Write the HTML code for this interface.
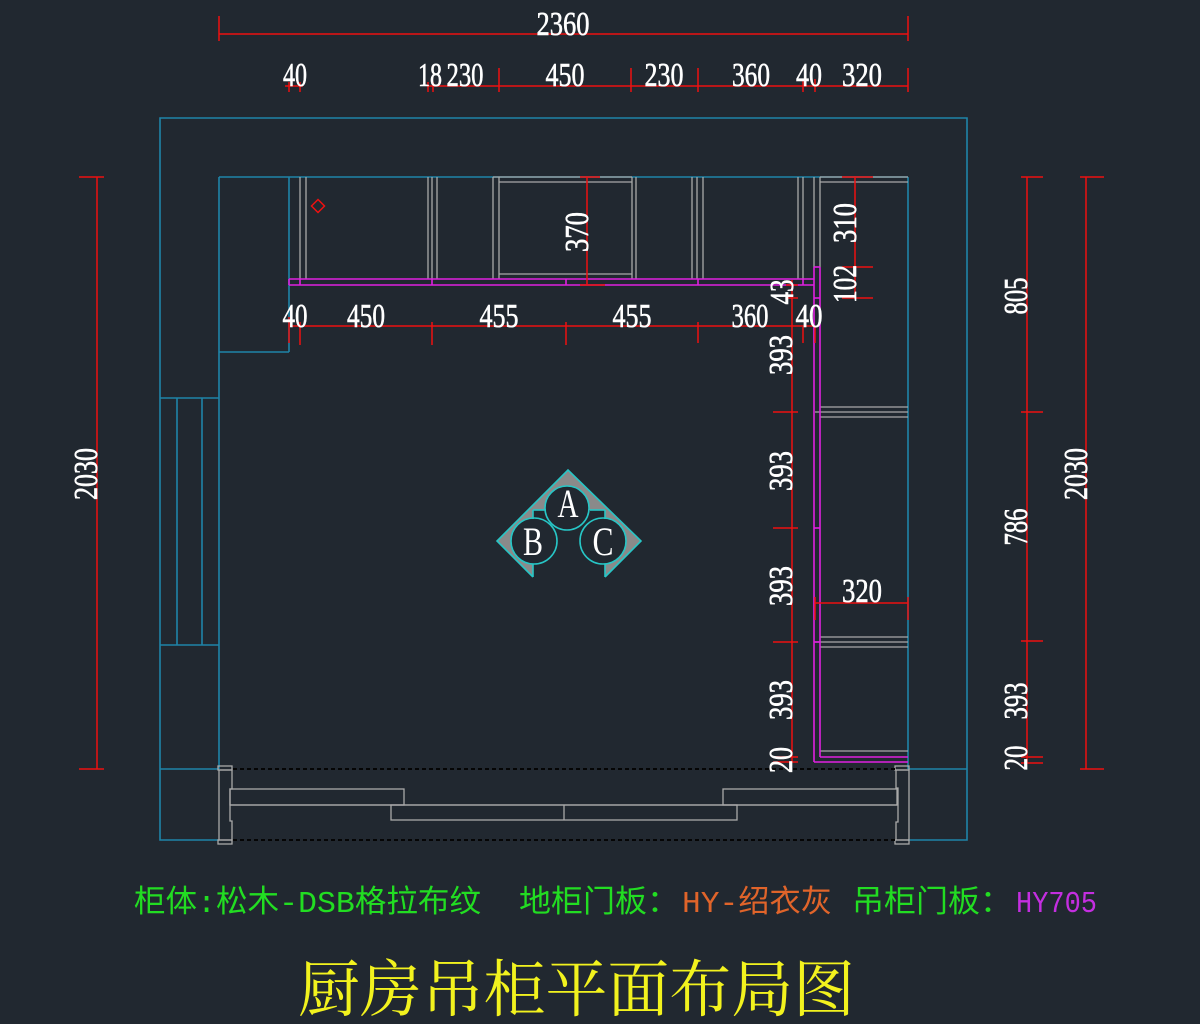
<!DOCTYPE html>
<html><head><meta charset="utf-8"><style>
html,body{margin:0;padding:0;background:#212830;}
svg{display:block}
.d{font-family:"Liberation Serif",serif;font-size:34px;fill:#ffffff;stroke:#ffffff;stroke-width:0.6px;}
.g{font-family:"Liberation Mono","Noto Sans CJK SC",sans-serif;font-size:31px;}
</style></head><body>
<svg width="1200" height="1024" viewBox="0 0 1200 1024" xmlns="http://www.w3.org/2000/svg">
<rect width="1200" height="1024" fill="#212830"/>

<g stroke="#1f84a8" stroke-width="1.6" fill="none">
<path d="M219,840 L160,840 L160,118 L967,118 L967,840 L908,840"/>
<line x1="219" y1="177" x2="908" y2="177"/>
<line x1="219" y1="177" x2="219" y2="769"/>
<line x1="908" y1="177" x2="908" y2="769"/>
<line x1="289" y1="177" x2="289" y2="352"/>
<line x1="219" y1="352" x2="289" y2="352"/>
<line x1="160" y1="398" x2="219" y2="398"/>
<line x1="160" y1="645" x2="219" y2="645"/>
<line x1="177" y1="398" x2="177" y2="645"/>
<line x1="202" y1="398" x2="202" y2="645"/>
<line x1="160" y1="769" x2="219" y2="769"/>
<line x1="908" y1="769" x2="967" y2="769"/>
</g>

<g stroke="#a9a9a9" stroke-width="1.3" fill="none">
<line x1="300" y1="177" x2="300" y2="279"/>
<line x1="306" y1="177" x2="306" y2="279"/>
<line x1="428" y1="177" x2="428" y2="279"/>
<line x1="432" y1="177" x2="432" y2="279"/>
<line x1="437" y1="177" x2="437" y2="279"/>
<line x1="493" y1="177" x2="493" y2="279"/>
<line x1="499" y1="177" x2="499" y2="279"/>
<line x1="632" y1="177" x2="632" y2="279"/>
<line x1="636" y1="177" x2="636" y2="279"/>
<line x1="692" y1="177" x2="692" y2="279"/>
<line x1="697" y1="177" x2="697" y2="279"/>
<line x1="703" y1="177" x2="703" y2="279"/>
<line x1="798" y1="177" x2="798" y2="279"/>
<line x1="803" y1="177" x2="803" y2="279"/>
<line x1="814" y1="177" x2="814" y2="267"/>
<line x1="820" y1="177" x2="820" y2="267"/>
<line x1="493" y1="177" x2="632" y2="177"/>
<line x1="499" y1="182" x2="632" y2="182"/>
<line x1="499" y1="274" x2="632" y2="274"/>
<line x1="820" y1="177" x2="908" y2="177"/>
<line x1="820" y1="182" x2="908" y2="182"/>
<line x1="820" y1="407" x2="908" y2="407"/>
<line x1="815" y1="412" x2="908" y2="412"/>
<line x1="820" y1="417" x2="908" y2="417"/>
<line x1="820" y1="637" x2="908" y2="637"/>
<line x1="815" y1="642" x2="908" y2="642"/>
<line x1="820" y1="647" x2="908" y2="647"/>
<line x1="820" y1="751" x2="908" y2="751"/>
<rect x="218" y="766" width="14" height="4"/>
<rect x="218" y="840" width="14" height="4"/>
<path d="M219,770 L232,770 L232,789 L230,789 L230,821 L232,821 L232,840 L219,840 Z"/>
<rect x="895" y="766" width="14" height="4"/>
<rect x="895" y="840" width="14" height="4"/>
<path d="M909,770 L896,770 L896,788 L898,788 L898,822 L896,822 L896,840 L909,840 Z"/>
<rect x="230" y="789" width="174" height="16"/>
<rect x="723" y="789" width="174" height="16"/>
<line x1="230" y1="805" x2="897" y2="805"/>
<rect x="391" y="805" width="346" height="15"/>
<line x1="564" y1="805" x2="564" y2="820"/>
</g>

<g stroke="#050505" stroke-width="2" stroke-dasharray="4 3">
<line x1="233" y1="769" x2="895" y2="769"/>
<line x1="233" y1="840" x2="895" y2="840"/>
</g>

<g stroke="#e020e0" stroke-width="1.6" fill="none">
<line x1="289" y1="279" x2="814" y2="279"/>
<line x1="289" y1="285" x2="814" y2="285"/>
<line x1="289" y1="279" x2="289" y2="285"/>
<line x1="300" y1="279" x2="300" y2="285"/>
<line x1="432" y1="279" x2="432" y2="285"/>
<line x1="566" y1="279" x2="566" y2="285"/>
<line x1="698" y1="279" x2="698" y2="285"/>
<line x1="803" y1="279" x2="803" y2="285"/>
<line x1="814" y1="267" x2="814" y2="762"/>
<line x1="820" y1="267" x2="820" y2="757"/>
<line x1="814" y1="267" x2="820" y2="267"/>
<line x1="814" y1="298" x2="820" y2="298"/>
<line x1="814" y1="528" x2="820" y2="528"/>
<line x1="814" y1="642" x2="820" y2="642"/>
<line x1="814" y1="762" x2="908" y2="762"/>
<line x1="820" y1="757" x2="908" y2="757"/>
</g>

<g stroke="#ee1111" stroke-width="1.5" fill="none">
<line x1="219" y1="34" x2="908" y2="34"/>
<line x1="219" y1="16" x2="219" y2="41"/>
<line x1="908" y1="16" x2="908" y2="41"/>
<line x1="285" y1="86" x2="303" y2="86"/>
<line x1="428" y1="86" x2="908" y2="86"/>
<line x1="289" y1="82" x2="289" y2="92"/>
<line x1="300" y1="82" x2="300" y2="92"/>
<line x1="428" y1="82" x2="428" y2="92"/>
<line x1="433" y1="82" x2="433" y2="92"/>
<line x1="499" y1="68" x2="499" y2="92"/>
<line x1="631" y1="68" x2="631" y2="92"/>
<line x1="698" y1="68" x2="698" y2="92"/>
<line x1="803" y1="79" x2="803" y2="92"/>
<line x1="815" y1="79" x2="815" y2="92"/>
<line x1="908" y1="68" x2="908" y2="92"/>
<line x1="97" y1="177" x2="97" y2="769"/>
<line x1="79" y1="177" x2="104" y2="177"/>
<line x1="79" y1="769" x2="104" y2="769"/>
<line x1="1027" y1="177" x2="1027" y2="763"/>
<line x1="1021" y1="177" x2="1043" y2="177"/>
<line x1="1021" y1="412" x2="1043" y2="412"/>
<line x1="1021" y1="641" x2="1043" y2="641"/>
<line x1="1021" y1="757" x2="1043" y2="757"/>
<line x1="1021" y1="763" x2="1043" y2="763"/>
<line x1="1086" y1="177" x2="1086" y2="769"/>
<line x1="1080" y1="177" x2="1104" y2="177"/>
<line x1="1080" y1="769" x2="1104" y2="769"/>
<line x1="855" y1="177" x2="855" y2="298"/>
<line x1="842" y1="177" x2="873" y2="177"/>
<line x1="842" y1="267" x2="873" y2="267"/>
<line x1="842" y1="298" x2="873" y2="298"/>
<line x1="587" y1="177" x2="587" y2="285"/>
<line x1="580" y1="285" x2="605" y2="285"/>
<line x1="580" y1="177" x2="600" y2="177"/>
<line x1="289" y1="326" x2="815" y2="326"/>
<line x1="289" y1="317" x2="289" y2="343"/>
<line x1="300" y1="322" x2="300" y2="345"/>
<line x1="432" y1="322" x2="432" y2="345"/>
<line x1="566" y1="322" x2="566" y2="345"/>
<line x1="698" y1="322" x2="698" y2="343"/>
<line x1="803" y1="327" x2="803" y2="343"/>
<line x1="815" y1="327" x2="815" y2="343"/>
<line x1="792" y1="280" x2="792" y2="762"/>
<line x1="786" y1="285" x2="798" y2="285"/>
<line x1="786" y1="298" x2="798" y2="298"/>
<line x1="773" y1="412" x2="798" y2="412"/>
<line x1="773" y1="528" x2="798" y2="528"/>
<line x1="773" y1="642" x2="798" y2="642"/>
<line x1="773" y1="757" x2="798" y2="757"/>
<line x1="773" y1="762" x2="798" y2="762"/>
<line x1="815" y1="603" x2="908" y2="603"/>
<line x1="815" y1="597" x2="815" y2="620"/>
<line x1="908" y1="597" x2="908" y2="620"/>
<polygon points="318,199.5 324.5,206 318,212.5 311.5,206"/>
</g>

<g>
<polygon points="533,577 497,541 568,470 641,541 605,577" fill="#8a8a8a"/>
<rect x="533" y="510" width="72" height="67" fill="#212830"/>
<circle cx="567" cy="508" r="22" fill="#212830" stroke="#27c6c6" stroke-width="1.6"/>
<circle cx="534" cy="541" r="23" fill="#212830" stroke="#27c6c6" stroke-width="1.6"/>
<circle cx="603" cy="541" r="23" fill="#212830" stroke="#27c6c6" stroke-width="1.6"/>
<g stroke="#27c6c6" stroke-width="1.6" fill="none">
<polyline points="533,577 497,541 568,470 641,541 605,577"/>
<line x1="533" y1="510" x2="546" y2="510"/>
<line x1="533" y1="510" x2="533" y2="519"/>
<line x1="590" y1="510" x2="605" y2="510"/>
<line x1="605" y1="510" x2="605" y2="519"/>
<line x1="533" y1="564" x2="533" y2="577"/>
<line x1="605" y1="564" x2="605" y2="577"/>
</g>
<text x="568" y="517" font-family="Liberation Serif,serif" font-size="40" fill="#fff" text-anchor="middle" textLength="21" lengthAdjust="spacingAndGlyphs">A</text>
<text x="533" y="555" font-family="Liberation Serif,serif" font-size="40" fill="#fff" text-anchor="middle" textLength="20" lengthAdjust="spacingAndGlyphs">B</text>
<text x="603" y="555" font-family="Liberation Serif,serif" font-size="40" fill="#fff" text-anchor="middle" textLength="21" lengthAdjust="spacingAndGlyphs">C</text>
</g>

<g class="d" text-anchor="middle">
<text x="563" y="35" textLength="53" lengthAdjust="spacingAndGlyphs">2360</text>
<text x="295" y="86" textLength="24" lengthAdjust="spacingAndGlyphs">40</text>
<text x="430" y="86" textLength="24" lengthAdjust="spacingAndGlyphs">18</text>
<text x="465" y="86" textLength="37" lengthAdjust="spacingAndGlyphs">230</text>
<text x="565" y="86" textLength="39" lengthAdjust="spacingAndGlyphs">450</text>
<text x="664" y="86" textLength="39" lengthAdjust="spacingAndGlyphs">230</text>
<text x="751" y="86" textLength="38" lengthAdjust="spacingAndGlyphs">360</text>
<text x="809" y="86" textLength="26" lengthAdjust="spacingAndGlyphs">40</text>
<text x="862" y="86" textLength="40" lengthAdjust="spacingAndGlyphs">320</text>
<text x="295" y="327" textLength="25" lengthAdjust="spacingAndGlyphs">40</text>
<text x="366" y="327" textLength="38" lengthAdjust="spacingAndGlyphs">450</text>
<text x="499" y="327" textLength="39" lengthAdjust="spacingAndGlyphs">455</text>
<text x="632" y="327" textLength="39" lengthAdjust="spacingAndGlyphs">455</text>
<text x="750" y="327" textLength="37" lengthAdjust="spacingAndGlyphs">360</text>
<text x="809" y="327" textLength="27" lengthAdjust="spacingAndGlyphs">40</text>
<text x="862" y="602" textLength="40" lengthAdjust="spacingAndGlyphs">320</text>
<text transform="translate(97,474) rotate(-90)" textLength="52" lengthAdjust="spacingAndGlyphs">2030</text>
<text transform="translate(1087,474) rotate(-90)" textLength="52" lengthAdjust="spacingAndGlyphs">2030</text>
<text transform="translate(1027,296) rotate(-90)" textLength="37" lengthAdjust="spacingAndGlyphs">805</text>
<text transform="translate(1027,527) rotate(-90)" textLength="37" lengthAdjust="spacingAndGlyphs">786</text>
<text transform="translate(1027,701) rotate(-90)" textLength="37" lengthAdjust="spacingAndGlyphs">393</text>
<text transform="translate(1027,758) rotate(-90)" textLength="25" lengthAdjust="spacingAndGlyphs">20</text>
<text transform="translate(588,232) rotate(-90)" textLength="40" lengthAdjust="spacingAndGlyphs">370</text>
<text transform="translate(856,223) rotate(-90)" textLength="40" lengthAdjust="spacingAndGlyphs">310</text>
<text transform="translate(856,284) rotate(-90)" textLength="38" lengthAdjust="spacingAndGlyphs">102</text>
<text transform="translate(793,292) rotate(-90)" textLength="25" lengthAdjust="spacingAndGlyphs">43</text>
<text transform="translate(792,355) rotate(-90)" textLength="40" lengthAdjust="spacingAndGlyphs">393</text>
<text transform="translate(792,471) rotate(-90)" textLength="40" lengthAdjust="spacingAndGlyphs">393</text>
<text transform="translate(792,586) rotate(-90)" textLength="40" lengthAdjust="spacingAndGlyphs">393</text>
<text transform="translate(792,700) rotate(-90)" textLength="40" lengthAdjust="spacingAndGlyphs">393</text>
<text transform="translate(792,760) rotate(-90)" textLength="26" lengthAdjust="spacingAndGlyphs">20</text>
</g>

<g class="g">
<text x="134" y="912" fill="#22dd22" textLength="347" lengthAdjust="spacingAndGlyphs">柜体:松木-DSB格拉布纹</text>
<text x="519" y="912" fill="#22dd22" textLength="160" lengthAdjust="spacingAndGlyphs">地柜门板：</text>
<text x="682" y="912" fill="#e0642a" textLength="150" lengthAdjust="spacingAndGlyphs">HY-绍衣灰</text>
<text x="852" y="912" fill="#22dd22" textLength="160" lengthAdjust="spacingAndGlyphs">吊柜门板：</text>
<text x="1016" y="912" fill="#c42ee0" textLength="81" lengthAdjust="spacingAndGlyphs">HY705</text>
</g>

<text x="298" y="1011" font-family="'Liberation Serif','Noto Serif CJK SC',serif" font-size="62" fill="#f2f21e" textLength="557" lengthAdjust="spacingAndGlyphs">厨房吊柜平面布局图</text>
</svg>
</body></html>
